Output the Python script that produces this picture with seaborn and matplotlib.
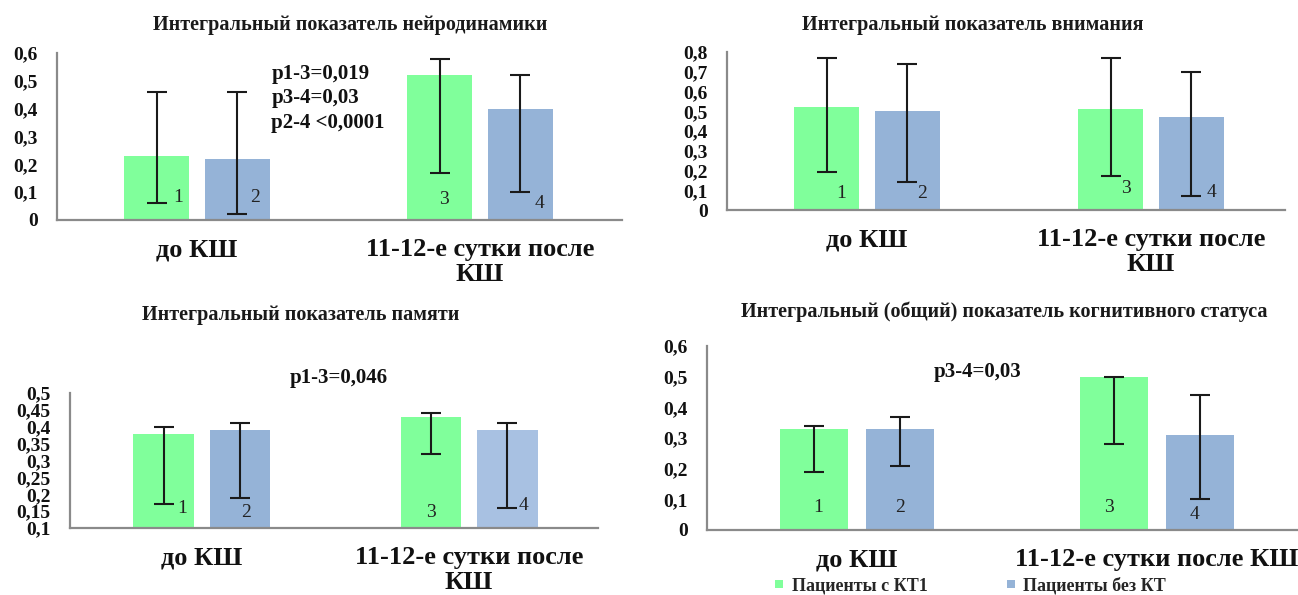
import matplotlib
matplotlib.use("Agg")
import matplotlib.pyplot as plt
from matplotlib.ticker import FuncFormatter, MultipleLocator
from matplotlib.lines import Line2D
import numpy as np
import pandas as pd
import seaborn as sns

# ---- data -------------------------------------------------------------
periods = ["до КШ", "11-12-е сутки после КШ"]
groups = ["Пациенты с КТ1", "Пациенты без КТ"]
bar_numbers = ["1", "2", "3", "4"]

titles = [
    "Интегральный показатель нейродинамики",
    "Интегральный показатель внимания",
    "Интегральный показатель памяти",
    "Интегральный (общий) показатель когнитивного статуса",
]

# bar order: 1 = КТ1 до, 2 = без КТ до, 3 = КТ1 после, 4 = без КТ после
neuro_mean = [0.23, 0.22, 0.52, 0.40]
neuro_low = [0.06, 0.02, 0.17, 0.10]
neuro_high = [0.46, 0.46, 0.58, 0.52]

attention_mean = [0.52, 0.50, 0.51, 0.47]
attention_low = [0.19, 0.14, 0.17, 0.07]
attention_high = [0.77, 0.74, 0.77, 0.70]

memory_mean = [0.38, 0.39, 0.43, 0.39]
memory_low = [0.17, 0.19, 0.32, 0.16]
memory_high = [0.40, 0.41, 0.44, 0.41]

total_mean = [0.33, 0.33, 0.50, 0.31]
total_low = [0.19, 0.21, 0.28, 0.10]
total_high = [0.34, 0.37, 0.50, 0.44]

p_neuro = ["p1-3=0,019", "p3-4=0,03", "p2-4 <0,0001"]
p_memory = ["p1-3=0,046"]
p_total = ["p3-4=0,03"]

# ---- style ------------------------------------------------------------
GREEN = "#80FF9B"
BLUE = "#95B3D7"
BLUE_LIGHT = "#A8C1E2"
AXIS_GREY = "#8A8A8A"
ERR = "#1A1A1A"

sns.set_theme(style="white")
plt.rcParams["font.family"] = ["Liberation Serif", "DejaVu Serif"]

W, H = 1298, 595
fig = plt.figure(figsize=(W / 100, H / 100), dpi=100)


def px_axes(left, right, bottom, top):
    return fig.add_axes([left / W, 1 - bottom / H, (right - left) / W, (bottom - top) / H])


def comma(v, _pos):
    s = "%g" % round(v, 2)
    return s.replace(".", ",")


def draw_panel(ax, mean, low, high, ylim, ystep, xlim, wrap, num_pos,
               p_lines=None, p_pos=None, light_last=False):
    df = pd.DataFrame({
        "period": [periods[0], periods[0], periods[1], periods[1]],
        "group": [groups[0], groups[1], groups[0], groups[1]],
        "value": mean,
    })
    sns.barplot(data=df, x="period", y="value", hue="group",
                order=periods, hue_order=groups, palette=[GREEN, BLUE],
                saturation=1, width=0.57, gap=0.2, errorbar=None,
                linewidth=0, legend=False, ax=ax)
    bars = sorted(ax.patches, key=lambda p: p.get_x())
    if light_last:
        bars[3].set_facecolor(BLUE_LIGHT)
    centers = np.array([b.get_x() + b.get_width() / 2 for b in bars])
    m = np.array(mean)
    ax.errorbar(centers, m, yerr=[m - np.array(low), np.array(high) - m],
                fmt="none", ecolor=ERR, elinewidth=1.5, capsize=7,
                capthick=1.5, zorder=4)
    for c, lab, (dx, y) in zip(centers, bar_numbers, num_pos):
        ax.text(c + dx, y, lab, ha="center", va="center", fontsize=14,
                color="#222222", zorder=5)

    ax.set_ylim(*ylim)
    ax.set_xlim(*xlim)
    ax.yaxis.set_major_locator(MultipleLocator(ystep))
    ax.yaxis.set_major_formatter(FuncFormatter(comma))
    ax.set_xticks([0, 1])
    second = "\n".join(periods[1].rsplit(" ", 1)) if wrap else periods[1]
    ax.set_xticklabels([periods[0], second], fontsize=19, fontweight="bold",
                       linespacing=1.1, color="#111111")
    for t in ax.get_yticklabels():
        t.set_fontsize(14)
        t.set_fontweight("bold")
        t.set_color("#111111")
    ax.tick_params(axis="x", length=0, pad=13)
    ax.tick_params(axis="y", length=0, pad=14)
    ax.set_xlabel("")
    ax.set_ylabel("")
    sns.despine(ax=ax)
    for s in ("left", "bottom"):
        ax.spines[s].set_color(AXIS_GREY)
        ax.spines[s].set_linewidth(1.6)
    if p_lines:
        px, py, step = p_pos
        for i, line in enumerate(p_lines):
            ax.text(px, py - i * step, line, ha="left", va="center",
                    fontsize=15, fontweight="bold", color="#111111",
                    clip_on=False)


# ---- panels -----------------------------------------------------------
ax1 = px_axes(57, 622, 220, 53)
draw_panel(ax1, neuro_mean, neuro_low, neuro_high, (0, 0.6), 0.1,
           (-0.495, 1.502), True,
           [(0.074, 0.08), (0.064, 0.08), (0.014, 0.072), (0.067, 0.06)],
           p_neuro, (0.262, 0.525, 0.088))

ax2 = px_axes(727, 1285, 210, 52)
draw_panel(ax2, attention_mean, attention_low, attention_high, (0, 0.8), 0.1,
           (-0.493, 1.472), True,
           [(0.053, 0.086), (0.05, 0.086), (0.053, 0.11), (0.07, 0.09)])

ax3 = px_axes(70, 598, 528, 393)
draw_panel(ax3, memory_mean, memory_low, memory_high, (0.1, 0.5), 0.05,
           (-0.494, 1.483), True,
           [(0.067, 0.159), (0.022, 0.147), (0.0, 0.147), (0.06, 0.168)],
           p_memory, (0.33, 0.544, 0), light_last=True)

ax4 = px_axes(707, 1298, 530, 346)
draw_panel(ax4, total_mean, total_low, total_high, (0, 0.6), 0.1,
           (-0.5, 1.47), False,
           [(0.013, 0.072), (0.0, 0.072), (-0.017, 0.075), (-0.017, 0.049)],
           p_total, (0.255, 0.515, 0))

# ---- titles -----------------------------------------------------------
title_pos = [(350, 25), (973, 25), (301, 315), (1004, 312)]
for t, (x, y) in zip(titles, title_pos):
    fig.text(x / W, 1 - y / H, t, ha="center", va="center", fontsize=14.5,
             fontweight="bold", color="#1a1a1a")

# ---- legend -----------------------------------------------------------
handles = [Line2D([], [], marker="s", linestyle="none", markersize=6,
                  markerfacecolor=c, markeredgewidth=0) for c in (GREEN, BLUE)]
fig.legend(handles, groups, loc="center left",
           bbox_to_anchor=(772 / W, 1 - 586 / H), ncol=2, frameon=False,
           handlelength=0.8, handletextpad=0.3, columnspacing=4.2,
           borderpad=0, borderaxespad=0,
           prop={"family": "Liberation Serif", "weight": "bold", "size": 13})

fig.savefig("out.png", dpi=100)
